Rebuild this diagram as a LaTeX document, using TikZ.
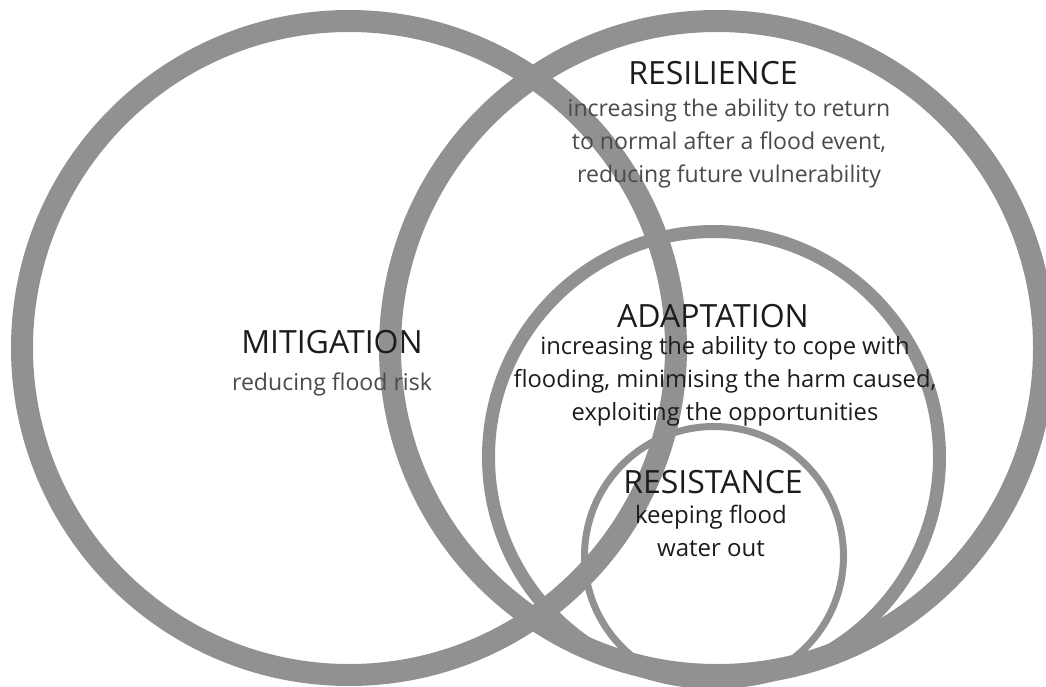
\documentclass[tikz,border=0pt]{standalone}
\usepackage{fontspec}
\setmainfont{Open Sans}
\definecolor{figRing}{HTML}{919191}
\definecolor{figInk}{HTML}{1C1C1C}
\definecolor{figSoft}{HTML}{4A4A4A}

\begin{document}
\begin{tikzpicture}[x=0.75pt,y=-0.75pt,
  ring/.style={draw=figRing},
  head/.style={figInk,anchor=base,inner sep=0pt,font=\fontsize{24}{28}\selectfont},
  note/.style={anchor=north,inner sep=0pt,align=center,font=\fontsize{17.3}{24.75}\selectfont},
  ]
\fill[white] (0,0) rectangle (1046,686);
\useasboundingbox (0,0) rectangle (1046,686);
\clip (0,0) rectangle (1046,686);
% big rings, then the two nested ones
\draw[ring,line width=16.5pt] (349,348) circle (327);
\draw[ring,line width=16.5pt] (717,348) circle (327);
\draw[ring,line width=9.75pt] (714,457) circle (225.5);
\draw[ring,line width=5.25pt] (714,556) circle (129.5);
% titles and notes
\node[head] (resilience) at (713,84) {RESILIENCE};
\node[note,figSoft] (resilienceNote) at (729,99) {increasing the ability to return\\to normal after a flood event,\\reducing future vulnerability};
\node[head] (mitigation) at (332,353) {MITIGATION};
\node[note,figSoft] (mitigationNote) at (332,373) {reducing flood risk};
\node[head] (adaptation) at (713,327) {ADAPTATION};
\node[note,figInk,font=\fontsize{17.8}{24.75}\selectfont] (adaptationNote) at (725,336) {increasing the ability to cope with\\flooding, minimising the harm caused,\\exploiting the opportunities};
\node[head] (resistance) at (713,493) {RESISTANCE};
\node[note,figInk,font=\fontsize{18}{24.75}\selectfont] (resistanceNote) at (711,505) {keeping flood\\water out};
\end{tikzpicture}
\end{document}
